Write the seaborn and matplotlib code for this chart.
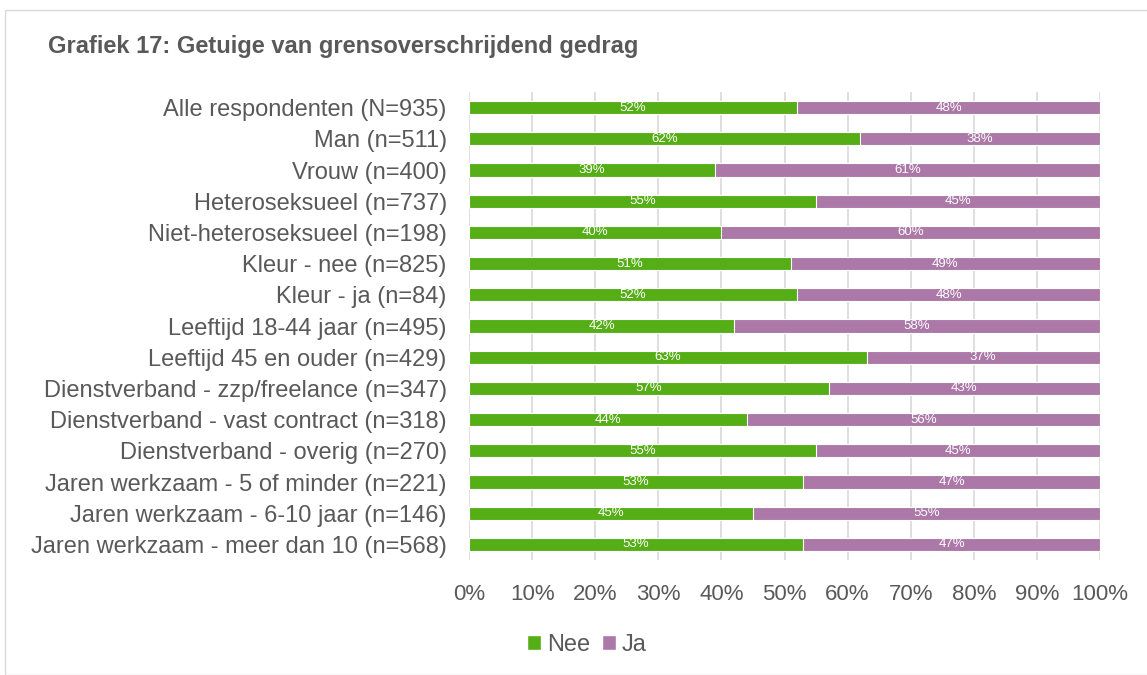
import matplotlib
matplotlib.use("Agg")
import matplotlib.pyplot as plt
import seaborn as sns
import pandas as pd
import numpy as np
from matplotlib.patches import Rectangle, Patch

categories = [
    "Alle respondenten (N=935)",
    "Man (n=511)",
    "Vrouw (n=400)",
    "Heteroseksueel (n=737)",
    "Niet-heteroseksueel (n=198)",
    "Kleur - nee (n=825)",
    "Kleur - ja (n=84)",
    "Leeftijd 18-44 jaar (n=495)",
    "Leeftijd 45 en ouder (n=429)",
    "Dienstverband - zzp/freelance (n=347)",
    "Dienstverband - vast contract (n=318)",
    "Dienstverband - overig (n=270)",
    "Jaren werkzaam - 5 of minder (n=221)",
    "Jaren werkzaam - 6-10 jaar (n=146)",
    "Jaren werkzaam - meer dan 10 (n=568)",
]
nee = [52, 62, 39, 55, 40, 51, 52, 42, 63, 57, 44, 55, 53, 45, 53]
ja = [48, 38, 61, 45, 60, 49, 48, 58, 37, 43, 56, 45, 47, 55, 47]
xticks = [0, 10, 20, 30, 40, 50, 60, 70, 80, 90, 100]

GREEN = "#56AE17"
PURPLE = "#AB78A8"
TXT = "#595959"

sns.set_theme(style="white")
plt.rcParams["font.family"] = ["Liberation Sans", "DejaVu Sans"]

df = pd.DataFrame({"cat": categories, "Nee": nee, "Ja": ja})
df["total"] = df["Nee"] + df["Ja"]

fig = plt.figure(figsize=(11.47, 6.75), dpi=100)
ax = fig.add_axes([469 / 1147, 1 - 560 / 675, (1100 - 469) / 1147, (560 - 92) / 675])

sns.barplot(data=df, y="cat", x="total", color=PURPLE, orient="h", width=0.42,
            ax=ax, saturation=1, edgecolor="white", linewidth=0.8, zorder=3)
sns.barplot(data=df, y="cat", x="Nee", color=GREEN, orient="h", width=0.42,
            ax=ax, saturation=1, edgecolor="white", linewidth=0.8, zorder=3)

for i, (n, j) in enumerate(zip(nee, ja)):
    ax.text(n / 2, i, f"{n}%", ha="center", va="center", color="white", fontsize=9.5, zorder=4)
    ax.text(n + j / 2, i, f"{j}%", ha="center", va="center", color="white", fontsize=9.5, zorder=4)

ax.set_xlim(0, 100)
ax.set_ylim(len(categories) - 0.5, -0.5)
ax.set_xticks(xticks)
ax.set_xticklabels([f"{t}%" for t in xticks], fontsize=16, color=TXT)
ax.tick_params(axis="y", labelsize=17, labelcolor=TXT, length=0, pad=16)
ax.tick_params(axis="x", length=0, pad=17)
ax.grid(axis="x", color="#D9D9D9", linewidth=1.2, zorder=0)
ax.set_axisbelow(True)
for s in ax.spines.values():
    s.set_visible(False)
ax.set_xlabel("")
ax.set_ylabel("")

fig.text(48 / 1147, 1 - 46 / 675, "Grafiek 17: Getuige van grensoverschrijdend gedrag",
         fontsize=17, fontweight="bold", color=TXT, ha="left", va="center")

handles = [Patch(facecolor=GREEN, label="Nee"), Patch(facecolor=PURPLE, label="Ja")]
fig.legend(handles=handles, loc="center", bbox_to_anchor=(587 / 1147, 1 - 645 / 675), ncol=2,
           frameon=False, fontsize=17, handlelength=0.6, handleheight=0.6,
           handletextpad=0.25, columnspacing=0.5, labelcolor=TXT)

fig.patches.append(Rectangle((5 / 1147, 0), 1.2, 1 - 10 / 675, transform=fig.transFigure,
                             fill=False, edgecolor="#D9D9D9", linewidth=1))

fig.savefig("out.png", dpi=100)
